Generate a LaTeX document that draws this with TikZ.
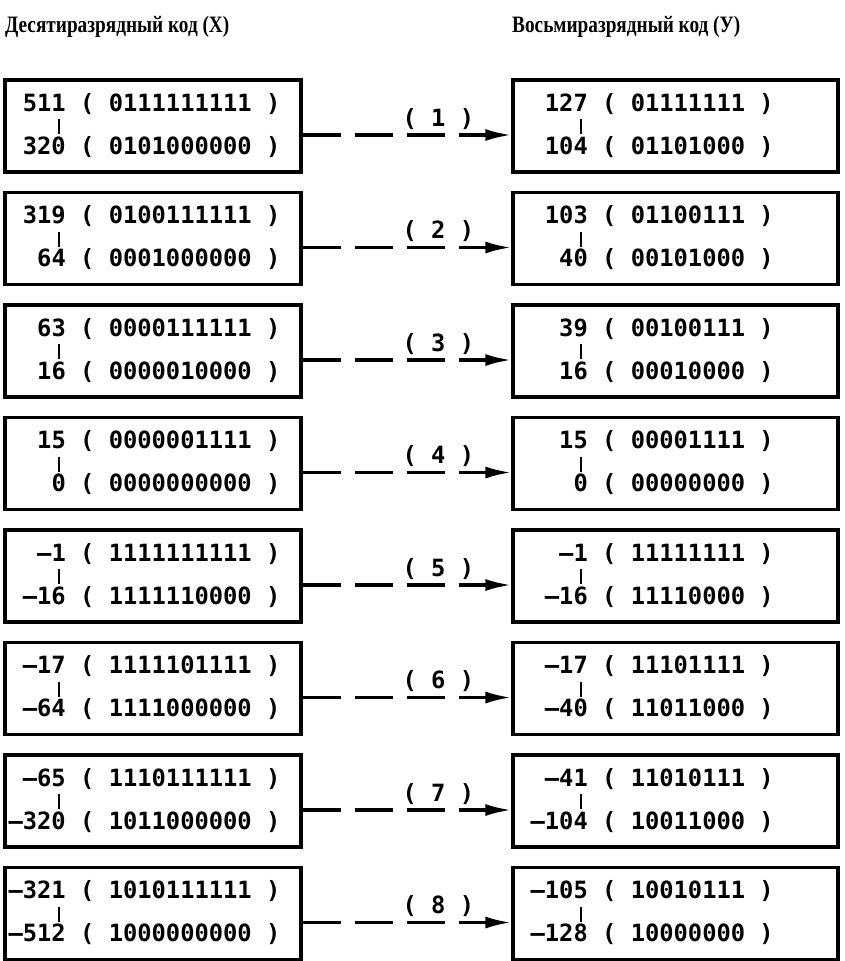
\documentclass[tikz,border=0pt]{standalone}
\usepackage{fontspec}
\setmainfont{Liberation Serif}
\newfontfamily\codefont{DejaVu Sans Mono}
\newfontfamily\headfont[FakeStretch=0.82]{Liberation Serif}
\usetikzlibrary{arrows.meta, calc}

\tikzset{
  codebox/.style = {draw, line width=3.2pt, minimum height=92pt, inner sep=0pt},
  num/.style     = {anchor=base east, inner sep=0pt, font=\codefont\bfseries\fontsize{23.75}{24}\selectfont},
  bits/.style    = {anchor=base west, inner sep=0pt, font=\codefont\bfseries\fontsize{23.75}{24}\selectfont},
  lab/.style     = {anchor=base, inner sep=0pt, yshift=9pt, font=\codefont\bfseries\fontsize{23.75}{24}\selectfont},
  title/.style   = {anchor=base west, inner sep=0pt, font=\headfont\bfseries\fontsize{23.5}{24}\selectfont},
  link/.style    = {line width=3.2pt, dash pattern=on 38pt off 14pt, -{Latex[length=26pt, width=12pt]}},
  tick/.style    = {line width=2.4pt}
}

\begin{document}
\begin{tikzpicture}[x=1pt, y=-1pt]
\useasboundingbox (0,0) rectangle (845,961);
\fill[white] (0,0) rectangle (845,961);
\node[title] (tx) at (5,32) {Десятиразрядный код (X)};
\node[title] (ty) at (512,32) {Восьмиразрядный код (У)};
% one row per range: X box -> Y box
\foreach \r/\xa/\xb/\xp/\xq/\ya/\yb/\yp/\yq in {
  1/511/320/0111111111/0101000000/127/104/01111111/01101000,
  2/319/64/0100111111/0001000000/103/40/01100111/00101000,
  3/63/16/0000111111/0000010000/39/16/00100111/00010000,
  4/15/0/0000001111/0000000000/15/0/00001111/00000000,
  5/–1/–16/1111111111/1111110000/–1/–16/11111111/11110000,
  6/–17/–64/1111101111/1111000000/–17/–40/11101111/11011000,
  7/–65/–320/1110111111/1011000000/–41/–104/11010111/10011000,
  8/–321/–512/1010111111/1000000000/–105/–128/10010111/10000000}{
  \pgfmathsetmacro\t{80+(\r-1)*112.5}
  \node[codebox, minimum width=296pt] (x\r) at (153,\t+46) {};
  \node[num] (xa\r) at (66,\t+31) {\xa};
  \node[num] (xb\r) at (66,\t+74) {\xb};
  \node[bits] (xp\r) at (80,\t+31) {( \xp\ )};
  \node[bits] (xq\r) at (80,\t+74) {( \xq\ )};
  \draw[tick] ($(xa\r.base east)+(-7,8)$) -- ($(xa\r.base east)+(-7,23)$);
  \node[codebox, minimum width=325pt] (y\r) at (675.5,\t+46) {};
  \node[num] (ya\r) at (588,\t+31) {\ya};
  \node[num] (yb\r) at (588,\t+74) {\yb};
  \node[bits] (yp\r) at (602,\t+31) {( \yp\ )};
  \node[bits] (yq\r) at (602,\t+74) {( \yq\ )};
  \draw[tick] ($(ya\r.base east)+(-7,8)$) -- ($(ya\r.base east)+(-7,23)$);
  \draw[link] ([yshift=-9pt]x\r.east) -- ([yshift=-9pt]y\r.west)
    node[lab, pos=0.65] (l\r) {( \r\ )};
}
\end{tikzpicture}
\end{document}
